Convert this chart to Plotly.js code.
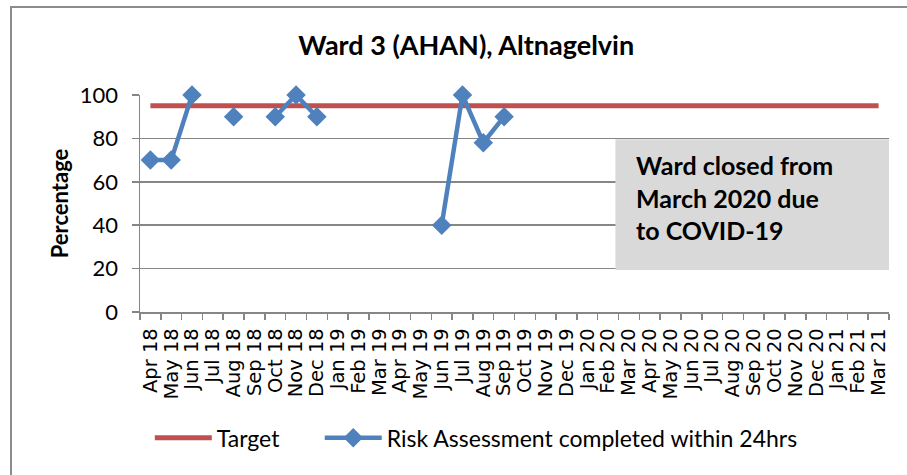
<!DOCTYPE html>
<html>
<head>
<meta charset="utf-8">
<script src="https://cdn.plot.ly/plotly-3.0.1.min.js"></script>
<style>
  html, body { margin: 0; padding: 0; background: #fff; }
  #wrap { position: relative; width: 907px; height: 475px; overflow: hidden; }
  #chart { position: absolute; left: 0; top: 0; width: 907px; height: 475px; }
  #frame { position: absolute; left: 10px; top: 6px; width: 920px; height: 500px;
           border-left: 2px solid #8c8c8c; border-top: 2px solid #8c8c8c; pointer-events: none; }
</style>
</head>
<body>
<div id="wrap">
  <div id="chart"></div>
  <div id="frame"></div>
</div>
<script>
const months = ['Apr 18','May 18','Jun 18','Jul 18','Aug 18','Sep 18','Oct 18','Nov 18','Dec 18',
  'Jan 19','Feb 19','Mar 19','Apr 19','May 19','Jun 19','Jul 19','Aug 19','Sep 19','Oct 19','Nov 19','Dec 19',
  'Jan 20','Feb 20','Mar 20','Apr 20','May 20','Jun 20','Jul 20','Aug 20','Sep 20','Oct 20','Nov 20','Dec 20',
  'Jan 21','Feb 21','Mar 21'];
const targetValues = [95,95,95,95,95,95,95,95,95,95,95,95,95,95,95,95,95,95,
  95,95,95,95,95,95,95,95,95,95,95,95,95,95,95,95,95,95];
const riskValues = [70,70,100,null,90,null,90,100,90,null,null,null,null,null,40,100,78,90,
  null,null,null,null,null,null,null,null,null,null,null,null,null,null,null,null,null,null];
const yTicks = [0,20,40,60,80,100];
const chartTitle = 'Ward 3 (AHAN), Altnagelvin';
const noteText = 'Ward closed from<br>March 2020 due<br>to COVID-19';
const nb = '\u00a0';

const traces = [
  { type: 'scatter', mode: 'lines', name: 'Target' + nb.repeat(6), x: months, y: targetValues,
    line: { color: '#C0504D', width: 5 }, hoverinfo: 'skip', cliponaxis: false },
  { type: 'scatter', mode: 'lines+markers', name: 'Risk Assessment completed within 24hrs',
    x: months, y: riskValues, connectgaps: false, cliponaxis: false,
    line: { color: '#4F81BD', width: 4.5 },
    marker: { symbol: 'diamond', size: 15, color: '#4F81BD' } }
];

const layout = {
  width: 907, height: 475,
  margin: { l: 140, r: 18, t: 95, b: 163 },
  paper_bgcolor: '#ffffff', plot_bgcolor: '#ffffff',
  showlegend: true,
  title: { text: '<b>' + chartTitle + '</b>', x: 0.514, xref: 'container', xanchor: 'center',
           y: 0.905, yref: 'container', yanchor: 'middle',
           font: { family: 'Lato, Arial, sans-serif', size: 27, color: '#000' } },
  xaxis: {
    type: 'category', range: [-0.5, 35.5], tickmode: 'linear', dtick: 1,
    tickson: 'boundaries', ticks: 'outside', ticklen: 6, tickcolor: '#868686', tickwidth: 1.5,
    showline: true, linecolor: '#868686', linewidth: 1.5, showgrid: false, zeroline: false,
    tickangle: -90, tickfont: { family: 'DejaVu Sans', size: 19.5, color: '#000' },
    ticklabelstandoff: 7,
    fixedrange: true
  },
  yaxis: {
    range: [0, 100], tickmode: 'array', tickvals: yTicks, ticktext: yTicks.map(String),
    ticks: 'outside', ticklen: 7, tickcolor: '#868686', tickwidth: 1.5,
    showline: true, linecolor: '#868686', linewidth: 1.5,
    showgrid: true, gridcolor: '#868686', gridwidth: 1.5, zeroline: false,
    tickfont: { family: 'Lato, Arial, sans-serif', size: 22, color: '#000' },
    ticklabelstandoff: 9,
    title: { text: '<b>Percentage</b>', standoff: 5,
             font: { family: 'Lato, Arial, sans-serif', size: 22, color: '#000' } },
    fixedrange: true
  },
  legend: {
    orientation: 'h', x: 0.449, xanchor: 'center', y: -0.58, yanchor: 'middle',
    font: { family: 'Lato, Arial, sans-serif', size: 23, color: '#000' },
    itemwidth: 57, traceorder: 'normal', bgcolor: 'rgba(0,0,0,0)'
  },
  shapes: [
    { type: 'rect', xref: 'x', yref: 'y', x0: 22.35, x1: 35.5, y0: 19.4, y1: 79.6,
      fillcolor: '#D9D9D9', line: { width: 0 }, layer: 'above' }
  ],
  annotations: [
    { xref: 'x', yref: 'y', x: 23.25, y: 52.8, xanchor: 'left', yanchor: 'middle', align: 'left',
      text: '<b>' + noteText + '</b>', showarrow: false,
      font: { family: 'Lato, Arial, sans-serif', size: 25, color: '#000' } }
  ]
};

Plotly.newPlot('chart', traces, layout, { displayModeBar: false, staticPlot: true });
</script>
</body>
</html>
